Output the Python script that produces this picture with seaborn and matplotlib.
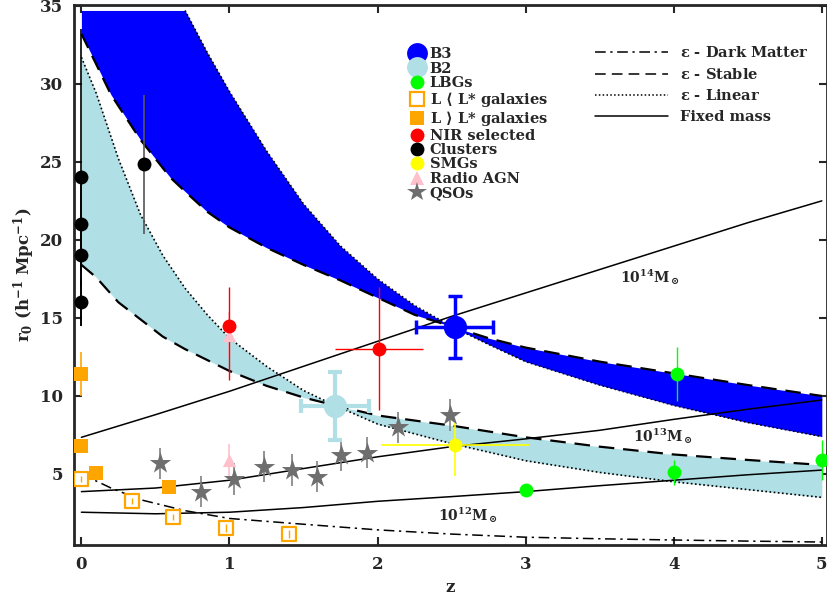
import matplotlib
matplotlib.use("Agg")
import matplotlib.pyplot as plt
from matplotlib.lines import Line2D
import seaborn as sns

# model bands
b3_z = [0, 0.2, 0.4, 0.6, 0.7, 0.85, 1.0, 1.25, 1.5, 1.75, 2.0, 2.25, 2.5, 2.75, 3.0, 3.5, 4.0, 4.5, 5.0]
b3_stable = [33.2, 29.3, 26.4, 24.0, 23.1, 21.8, 20.8, 19.5, 18.4, 17.4, 16.3, 15.2, 14.45, 13.7, 13.1, 12.2, 11.45, 10.7, 10.0]
b3_linear = [34.7, 34.7, 34.7, 34.7, 34.7, 32.0, 29.5, 25.7, 22.3, 19.6, 17.5, 15.8, 14.45, 13.3, 12.2, 10.7, 9.4, 8.3, 7.4]

b2_z = [0, 0.1, 0.25, 0.4, 0.55, 0.7, 0.85, 1.0, 1.25, 1.5, 1.71, 2.0, 2.5, 3.0, 3.5, 4.0, 4.5, 5.0]
b2_stable = [18.4, 17.6, 16.0, 14.9, 13.8, 13.0, 12.3, 11.6, 10.65, 9.9, 9.4, 8.75, 8.1, 7.35, 6.75, 6.25, 5.9, 5.58]
b2_linear = [31.7, 29.4, 25.2, 21.6, 19.0, 16.9, 15.2, 13.7, 11.9, 10.35, 9.4, 8.2, 6.95, 5.85, 5.1, 4.5, 4.0, 3.5]

dm_z = [0, 0.2, 0.4, 0.7, 1.0, 1.5, 2.0, 2.5, 3.0, 3.5, 4.0, 4.5, 5.0]
dm_r = [5.0, 4.1, 3.35, 2.65, 2.15, 1.78, 1.42, 1.15, 0.95, 0.85, 0.77, 0.7, 0.64]

# fixed halo mass tracks
fm_z = [0, 0.5, 1.0, 1.5, 2.0, 2.5, 3.0, 3.5, 4.0, 4.5, 5.0]
fm_14 = [7.35, 8.8, 10.3, 11.9, 13.5, 15.1, 16.6, 18.1, 19.6, 21.1, 22.5]
fm_13 = [3.87, 4.1, 4.6, 5.35, 6.1, 6.75, 7.25, 7.8, 8.5, 9.15, 9.74]
fm_12 = [2.55, 2.45, 2.55, 2.85, 3.25, 3.55, 3.87, 4.25, 4.6, 4.95, 5.25]

# observational samples
b3_pt = (2.52, 14.4, 0.26, 2.0)
b2_pt = (1.71, 9.36, 0.23, 2.2)

lbg_z = [3.0, 4.0, 4.02, 5.0]
lbg_r = [3.97, 5.1, 11.4, 5.9]
lbg_err = [0.35, 0.8, 1.75, 1.3]

faint_z = [0, 0.343, 0.62, 0.974, 1.40]
faint_r = [4.66, 3.27, 2.22, 1.54, 1.15]
faint_err = [0.2, 0.2, 0.2, 0.25, 0.25]

bright_z = [0, 0, 0.096, 0.59]
bright_r = [11.4, 6.8, 5.08, 4.19]
bright_err = [1.4, 0.3, 0.2, 0.2]

nir_z = [1.0, 2.01]
nir_r = [14.5, 13.0]
nir_zerr = [0.0, 0.3]
nir_rerr = [[3.5, 3.9], [2.5, 4.0]]

clu_z = [0, 0, 0, 0, 0.42]
clu_r = [24.0, 21.0, 19.0, 16.0, 24.85]
clu_err = [9.5, 3.0, 2.0, 1.5, 4.45]

smg_z, smg_r = [2.52], [6.86]
smg_zerr = [[0.5], [0.5]]
smg_rerr = [[2.0], [1.4]]

ragn_z = [1.0, 1.0]
ragn_r = [13.9, 5.9]
ragn_err = [1.5, 1.0]

qso_z = [0.53, 0.81, 1.03, 1.23, 1.42, 1.59, 1.75, 1.93, 2.14, 2.49]
qso_r = [5.68, 3.87, 4.68, 5.47, 5.26, 4.83, 6.22, 6.37, 8.0, 8.78]
qso_err = [1.0, 1.0, 1.0, 1.0, 1.0, 1.0, 1.0, 1.0, 1.0, 1.0]

mass_labels = [r"10$^{14}$M$_\odot$", r"10$^{13}$M$_\odot$", r"10$^{12}$M$_\odot$"]
mass_label_pos = [(3.84, 17.6), (3.93, 7.4), (2.61, 2.37)]

sns.set_style("ticks")
plt.rcParams["font.family"] = ["DejaVu Serif"]
plt.rcParams["font.weight"] = "bold"
plt.rcParams["mathtext.fontset"] = "custom"
plt.rcParams["mathtext.rm"] = "DejaVu Serif:bold"
plt.rcParams["mathtext.it"] = "DejaVu Serif:italic:bold"
plt.rcParams["mathtext.bf"] = "DejaVu Serif:bold"
plt.rcParams["mathtext.default"] = "rm"

fig = plt.figure(figsize=(8.27, 6.0), dpi=100)
ax = fig.add_axes([74 / 827, 55 / 600, 1 - 74 / 827, 540 / 600])

dashed = (0, (7, 4))
dotted = (0, (1, 1.5))
dashdot = (0, (7, 3, 1.5, 3))

# bands
ax.fill_between(b3_z, b3_stable, b3_linear, color="#0000ff", lw=0, zorder=1)
ax.fill_between(b2_z, b2_stable, b2_linear, color="#b0dfe5", lw=0, zorder=1)

sns.lineplot(x=b3_z, y=b3_stable, ax=ax, color="k", lw=1.6, linestyle=dashed, sort=False, estimator=None, zorder=2)
sns.lineplot(x=b3_z[4:], y=b3_linear[4:], ax=ax, color="k", lw=1.2, linestyle=dotted, sort=False, estimator=None, zorder=2)
sns.lineplot(x=b2_z, y=b2_stable, ax=ax, color="k", lw=1.6, linestyle=dashed, sort=False, estimator=None, zorder=2)
sns.lineplot(x=b2_z, y=b2_linear, ax=ax, color="k", lw=1.2, linestyle=dotted, sort=False, estimator=None, zorder=2)
sns.lineplot(x=dm_z, y=dm_r, ax=ax, color="k", lw=1.1, linestyle=dashdot, sort=False, estimator=None, zorder=2)

for fm in (fm_14, fm_13, fm_12):
    sns.lineplot(x=fm_z, y=fm, ax=ax, color="k", lw=1.1, sort=False, estimator=None, zorder=2)

for txt, (tx, ty) in zip(mass_labels, mass_label_pos):
    ax.text(tx, ty, txt, ha="center", va="center", fontsize=10, fontweight="bold")

# error bars
ax.errorbar(clu_z[:4], clu_r[:4], yerr=clu_err[:4], fmt="none", ecolor="k", elinewidth=1.2, zorder=3)
ax.errorbar(clu_z[4:], clu_r[4:], yerr=clu_err[4:], fmt="none", ecolor="#555555", elinewidth=1.2, zorder=3)
ax.errorbar(bright_z, bright_r, yerr=bright_err, fmt="none", ecolor="#ffa500", elinewidth=1.2, zorder=3)
ax.errorbar(faint_z, faint_r, yerr=faint_err, fmt="none", ecolor="#ffa500", elinewidth=1.0, zorder=5)
ax.errorbar(qso_z, qso_r, yerr=qso_err, fmt="none", ecolor="#808080", elinewidth=1.2, zorder=3)
ax.errorbar(ragn_z, ragn_r, yerr=ragn_err, fmt="none", ecolor="pink", elinewidth=1.2, zorder=3)
ax.errorbar(nir_z, nir_r, xerr=nir_zerr, yerr=nir_rerr, fmt="none", ecolor="#ff0000", elinewidth=1.0, zorder=3)
ax.errorbar(lbg_z, lbg_r, yerr=lbg_err, fmt="none", ecolor="#00ff00", elinewidth=1.0, zorder=3)
ax.errorbar(smg_z, smg_r, xerr=smg_zerr, yerr=smg_rerr, fmt="none", ecolor="#ffff00", elinewidth=1.2, zorder=3)
ax.errorbar([b2_pt[0]], [b2_pt[1]], xerr=[b2_pt[2]], yerr=[b2_pt[3]], fmt="none", ecolor="#b0dfe5",
            elinewidth=3, capsize=5, capthick=3, zorder=3)
ax.errorbar([b3_pt[0]], [b3_pt[1]], xerr=[b3_pt[2]], yerr=[b3_pt[3]], fmt="none", ecolor="#0000ff",
            elinewidth=2.5, capsize=5, capthick=2.5, zorder=3)

# markers
sk = dict(ax=ax, linewidth=0, zorder=4, legend=False)
sns.scatterplot(x=qso_z, y=qso_r, marker="*", s=260, color="#6e6e6e", **sk)
sns.scatterplot(x=ragn_z, y=ragn_r, marker="^", s=90, color="pink", **sk)
sns.scatterplot(x=clu_z, y=clu_r, marker="o", s=100, color="k", **sk)
sns.scatterplot(x=bright_z, y=bright_r, marker="s", s=110, color="#ffa500", **sk)
sns.scatterplot(x=nir_z, y=nir_r, marker="o", s=100, color="#ff0000", **sk)
sns.scatterplot(x=lbg_z, y=lbg_r, marker="o", s=100, color="#00ff00", **sk)
sns.scatterplot(x=smg_z, y=smg_r, marker="o", s=100, color="#ffff00", **sk)
sns.scatterplot(x=[b2_pt[0]], y=[b2_pt[1]], marker="o", s=280, color="#b0dfe5", **sk)
sns.scatterplot(x=[b3_pt[0]], y=[b3_pt[1]], marker="o", s=280, color="#0000ff", **sk)
ax.scatter(faint_z, faint_r, marker="s", s=100, facecolors="white", edgecolors="#ffa500", linewidths=1.6, zorder=4)

ax.set_xlim(-0.05, 5.035)
ax.set_ylim(0.45, 35.05)
ax.set_xticks([0, 1, 2, 3, 4, 5])
ax.set_yticks([5, 10, 15, 20, 25, 30, 35])
ax.tick_params(direction="in", length=6, width=1.5, top=True, right=True, labelsize=12, pad=8)
for sp in ax.spines.values():
    sp.set_linewidth(2)
ax.set_xlabel("z", fontsize=12, fontweight="bold", labelpad=4)
ax.set_ylabel(r"r$_0$ (h$^{-1}$ Mpc$^{-1}$)", fontsize=12, fontweight="bold", labelpad=2)

# legends
def mk(marker, color, ms, face=None):
    return Line2D([], [], ls="none", marker=marker, markersize=ms, markerfacecolor=face or color,
                  markeredgecolor=color, markeredgewidth=1.6 if face else 0)

h1 = [mk("o", "#0000ff", 15), mk("o", "#b0dfe5", 15), mk("o", "#00ff00", 10),
      mk("s", "#ffa500", 10, face="white"), mk("s", "#ffa500", 10), mk("o", "#ff0000", 10),
      mk("o", "k", 10), mk("o", "#ffff00", 10), mk("^", "pink", 10), mk("*", "#6e6e6e", 15)]
l1 = ["B3", "B2", "LBGs", r"L $\langle$ L* galaxies", r"L $\rangle$ L* galaxies", "NIR selected",
      "Clusters", "SMGs", "Radio AGN", "QSOs"]
leg1 = fig.legend(h1, l1, loc="upper left", bbox_to_anchor=(402 / 827, 1 - 40 / 600), frameon=False,
                  fontsize=10.5, handlelength=1.0, handletextpad=0.4, labelspacing=0.02, borderpad=0)

h2 = [Line2D([], [], color="k", lw=1.1, ls=dashdot), Line2D([], [], color="k", lw=1.1, ls=dashed),
      Line2D([], [], color="k", lw=1.1, ls=dotted), Line2D([], [], color="k", lw=1.1)]
l2 = [r"$\epsilon$ - Dark Matter", r"$\epsilon$ - Stable", r"$\epsilon$ - Linear", "Fixed mass"]
fig.legend(h2, l2, loc="upper left", bbox_to_anchor=(588 / 827, 1 - 38 / 600), frameon=False,
           fontsize=10.5, handlelength=5.0, handletextpad=0.8, labelspacing=0.45, borderpad=0)

fig.savefig("out.png", dpi=100)
